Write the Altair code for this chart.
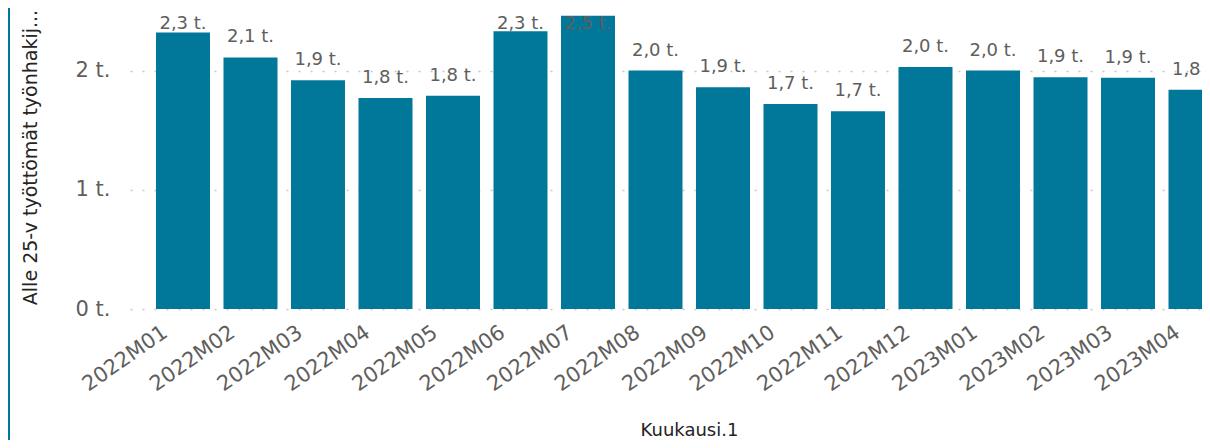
import altair as alt
import pandas as pd

months = ["2022M01", "2022M02", "2022M03", "2022M04", "2022M05", "2022M06",
          "2022M07", "2022M08", "2022M09", "2022M10", "2022M11", "2022M12",
          "2023M01", "2023M02", "2023M03", "2023M04"]
values = [2320, 2110, 1920, 1770, 1790, 2330, 2460, 2000, 1860, 1720, 1660,
          2030, 2000, 1945, 1940, 1840]
y_ticks = [0, 1000, 2000]

df = pd.DataFrame({"m": months, "v": values})

BAR = "#01789A"
GRAY = "#605E5C"
FONT = "DejaVu Sans"

x_enc = alt.X("m:N", sort=months, title="Kuukausi.1",
              scale=alt.Scale(range=[0, 1118.5], paddingInner=0.2, paddingOuter=0.385),
              axis=alt.Axis(labelAngle=-35, labelAlign="right", labelBaseline="alphabetic",
                            labelOffset=-14, labelPadding=26, ticks=False, domain=False,
                            labelFontSize=21, labelColor=GRAY, labelFont=FONT,
                            titleFont=FONT, titleFontSize=18, titleColor="#252423",
                            titleFontWeight="normal", titleBaseline="alphabetic",
                            titleX=559, titleY=126, titleAlign="center"))
y_scale = alt.Scale(domain=[0, 2500], nice=False)

bars = alt.Chart(df).mark_bar(color=BAR, clip=True).encode(
    x=x_enc,
    y=alt.Y("v:Q", scale=y_scale, title="Alle 25-v työttömät työnhakij...",
            axis=alt.Axis(values=y_ticks, labelExpr="format(datum.value/1000,'d') + ' t.'",
                          ticks=False, domain=False, labelPadding=20,
                          labelFontSize=21, labelColor=GRAY, labelFont=FONT,
                          grid=True, gridColor="#C8C8C8", gridDash=[2, 10], gridWidth=1.5,
                          titleFont=FONT, titleFontSize=19, titleColor="#252423",
                          titleFontWeight="normal", titleX=-100, titleY=146,
                          titleBaseline="middle", titleAlign="center")),
)

labels = alt.Chart(df).transform_calculate(
    lv="min(datum.v, 2223)",
    lab="replace(format(datum.v/1000, '.1f'), '.', ',') + ' t.'"
).mark_text(baseline="alphabetic", dy=-15, fontSize=18, color=GRAY, font=FONT).encode(
    x=alt.X("m:N", sort=months),
    y=alt.Y("lv:Q", scale=y_scale),
    text="lab:N",
)

border = alt.Chart(df).mark_rule(color=BAR, strokeWidth=2).encode(
    x=alt.value(-121), y=alt.value(-10), y2=alt.value(450)
).transform_filter("datum.m == '2022M01'")

chart = alt.layer(bars, labels, border).properties(
    width=1072, height=298,
    autosize=alt.AutoSizeParams(type="none"),
    padding={"left": 122, "top": 3, "right": 0, "bottom": 131},
).configure_view(stroke=None)

chart.save("out.html", embed_options={"renderer": "svg", "actions": False})
